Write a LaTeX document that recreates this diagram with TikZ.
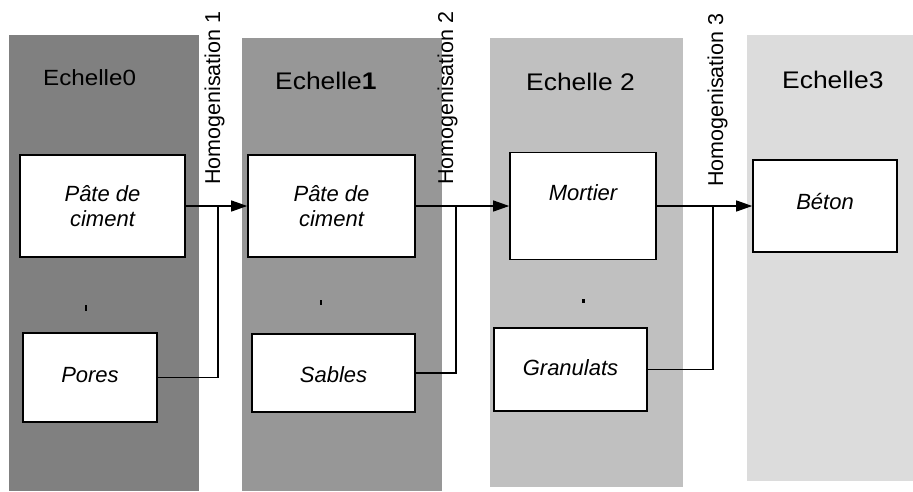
\documentclass[tikz,border=0pt]{standalone}
\usepackage{fontspec}
\setmainfont{Liberation Sans}
\newfontfamily\ewide[FakeStretch=1.1]{Liberation Sans}
\newfontfamily\ewider[FakeStretch=1.1]{Liberation Sans}
\usetikzlibrary{arrows.meta}
\definecolor{pzero}{HTML}{808080}
\definecolor{pone}{HTML}{979797}
\definecolor{ptwo}{HTML}{C0C0C0}
\definecolor{pthree}{HTML}{DCDCDC}
\begin{document}
\begin{tikzpicture}[x=1pt,y=-1pt,
  box/.style={draw, line width=1.6pt, fill=white, inner sep=0pt, align=center,
    font=\fontsize{22}{25}\selectfont\itshape},
  conn/.style={line width=1.3pt},
  arr/.style={conn, -{Triangle[length=16pt,width=11pt]}},
  homog/.style={rotate=90, anchor=base west, inner sep=0pt, font=\fontsize{21.5}{24}\selectfont},
  echelle/.style={anchor=base west, inner sep=0pt}]
\useasboundingbox (0,0) rectangle (913,491);
% panels
\fill[pzero] (9,35) rectangle (199,491);
\fill[pone] (242,38) rectangle (442,491);
\fill[ptwo] (490,38) rectangle (683,487);
\fill[pthree] (747,35) rectangle (913,481);
% scale titles
\node[echelle, font=\ewide\fontsize{22}{26}\selectfont] (e0) at (43,85) {Echelle0};
\node[echelle, font=\ewider\fontsize{24}{28}\selectfont] (e1) at (275,89) {Echelle\textbf{1}};
\node[echelle, font=\ewider\fontsize{24}{28}\selectfont] (e2) at (526,90) {Echelle 2};
\node[echelle, font=\ewider\fontsize{24}{28}\selectfont] (e3) at (782,88) {Echelle3};
% homogenisation labels
\node[homog] (h1) at (220,185) {Homogenisation 1};
\node[homog] (h2) at (453,185) {Homogenisation 2};
\node[homog] (h3) at (723,187) {Homogenisation 3};
% boxes
\node[box, minimum width=165pt, minimum height=102pt] (p0) at (102.5,206) {Pâte de\\ciment};
\node[box, minimum width=134pt, minimum height=89pt, text height=16pt, text depth=7pt] (pores) at (90,377.5) {Pores};
\node[box, minimum width=167pt, minimum height=102pt] (p1) at (331.5,206) {Pâte de\\ciment};
\node[box, minimum width=163pt, minimum height=78pt, text height=18pt, text depth=0pt] (sables) at (333.5,373) {Sables};
\node[box, minimum width=146pt, minimum height=107pt, text height=16pt, text depth=27pt] (mortier) at (583,206) {Mortier};
\node[box, minimum width=153pt, minimum height=83pt, text height=16pt, text depth=5pt] (granulats) at (570.5,369.5) {Granulats};
\node[box, minimum width=144pt, minimum height=92pt, text height=16pt, text depth=10pt] (beton) at (825,206) {Béton};
% small marks
\fill (85,305) rectangle (87,311);
\fill (320,300) rectangle (322,305);
\fill (582,299) rectangle (585,303);
% junctions
\coordinate (j1) at (218,206);
\coordinate (j2) at (456,206);
\coordinate (j3) at (713,206);
% connectors
\draw[arr] (p0.east) -- (p1.west);
\draw[arr] (p1.east) -- (mortier.west);
\draw[arr] (mortier.east) -- (beton.west);
\draw[conn] (pores.east) -| (j1);
\draw[conn] (sables.east) -| (j2);
\draw[conn] (granulats.east) -| (j3);
\end{tikzpicture}
\end{document}
